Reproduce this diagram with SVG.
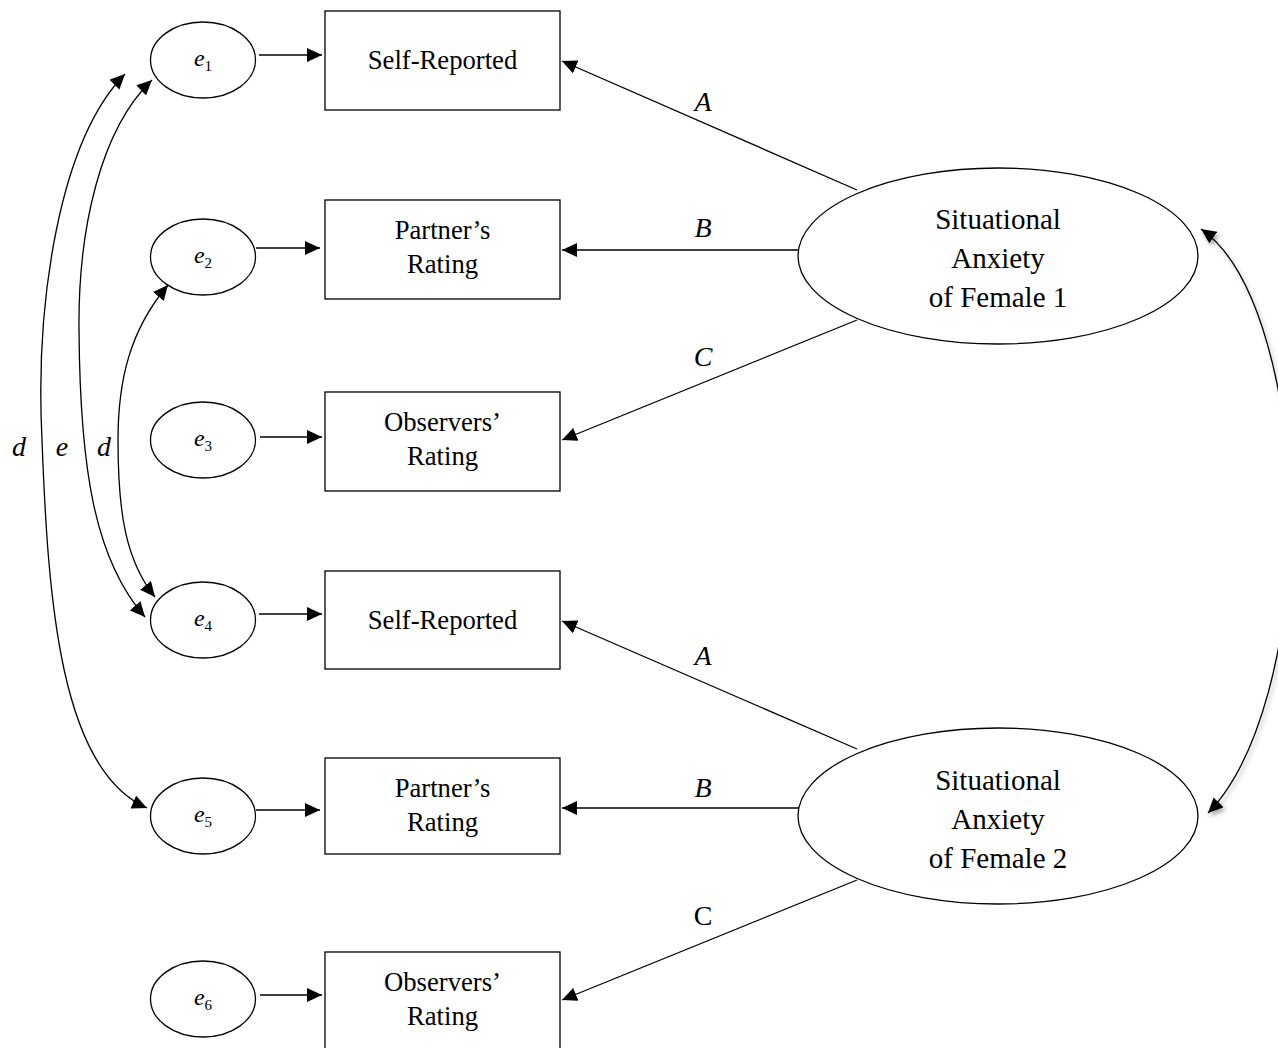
<svg xmlns="http://www.w3.org/2000/svg" width="1278" height="1048" viewBox="0 0 1278 1048">
  <defs>
    <marker id="arrow" viewBox="0 0 15 14" refX="15" refY="7" markerWidth="15" markerHeight="14" markerUnits="userSpaceOnUse" orient="auto-start-reverse">
      <path d="M0,0 L15,7 L0,14 z" fill="#000"/>
    </marker>
    <filter id="shadow" x="-20%" y="-10%" width="160%" height="130%">
      <feDropShadow dx="2" dy="3" stdDeviation="2" flood-color="#000" flood-opacity="0.35"/>
    </filter>
    <style>
      .box { fill: #fff; stroke: #000; stroke-width: 1.3; }
      .oval { fill: #fff; stroke: #000; stroke-width: 1.3; }
      .lbl { font-family: "Liberation Serif", "Times New Roman", serif; font-size: 26.67px; fill: #000; text-anchor: middle; }
      .big { font-family: "Liberation Serif", "Times New Roman", serif; font-size: 29px; fill: #000; text-anchor: middle; }
      .err { font-family: "Liberation Serif", "Times New Roman", serif; font-size: 24px; font-style: italic; fill: #000; text-anchor: middle; }
      .err .sub { font-size: 15px; font-style: normal; }
      .coef { font-family: "Liberation Serif", "Times New Roman", serif; font-size: 28px; font-style: italic; fill: #000; text-anchor: middle; }
      .coef.up { font-style: normal; }
      .wire { fill: none; stroke: #000; stroke-width: 1.3; }
      .one { marker-end: url(#arrow); }
      .two { marker-start: url(#arrow); marker-end: url(#arrow); }
    </style>
  </defs>

  <!-- error terms -->
  <g id="e1"><ellipse class="oval" cx="203" cy="60" rx="52.5" ry="38"/><text class="err" x="203" y="66">e<tspan class="sub" dy="5">1</tspan></text></g>
  <g id="e2"><ellipse class="oval" cx="203" cy="257" rx="52.5" ry="38"/><text class="err" x="203" y="263">e<tspan class="sub" dy="5">2</tspan></text></g>
  <g id="e3"><ellipse class="oval" cx="203" cy="440" rx="52.5" ry="38"/><text class="err" x="203" y="446">e<tspan class="sub" dy="5">3</tspan></text></g>
  <g id="e4"><ellipse class="oval" cx="203" cy="620" rx="52.5" ry="38"/><text class="err" x="203" y="626">e<tspan class="sub" dy="5">4</tspan></text></g>
  <g id="e5"><ellipse class="oval" cx="203" cy="816" rx="52.5" ry="38"/><text class="err" x="203" y="822">e<tspan class="sub" dy="5">5</tspan></text></g>
  <g id="e6"><ellipse class="oval" cx="203" cy="999" rx="52.5" ry="38"/><text class="err" x="203" y="1005">e<tspan class="sub" dy="5">6</tspan></text></g>

  <!-- observed indicators -->
  <g id="self1"><rect class="box" x="325" y="11" width="235" height="99"/><text class="lbl" x="442.5" y="69">Self-Reported</text></g>
  <g id="partner1"><rect class="box" x="325" y="200" width="235" height="99"/><text class="lbl" x="442.5" y="239">Partner’s</text><text class="lbl" x="442.5" y="273">Rating</text></g>
  <g id="observers1"><rect class="box" x="325" y="392" width="235" height="99"/><text class="lbl" x="442.5" y="431">Observers’</text><text class="lbl" x="442.5" y="465">Rating</text></g>
  <g id="self2"><rect class="box" x="325" y="571" width="235" height="98"/><text class="lbl" x="442.5" y="629">Self-Reported</text></g>
  <g id="partner2"><rect class="box" x="325" y="758" width="235" height="96"/><text class="lbl" x="442.5" y="797">Partner’s</text><text class="lbl" x="442.5" y="831">Rating</text></g>
  <g id="observers2"><rect class="box" x="325" y="952" width="235" height="110"/><text class="lbl" x="442.5" y="991">Observers’</text><text class="lbl" x="442.5" y="1025">Rating</text></g>

  <!-- latent factors -->
  <g id="female1"><ellipse class="oval" cx="998" cy="256" rx="200" ry="88"/><text class="big" x="998" y="229">Situational</text><text class="big" x="998" y="268">Anxiety</text><text class="big" x="998" y="307">of Female 1</text></g>
  <g id="female2"><ellipse class="oval" cx="998" cy="816" rx="200" ry="88"/><text class="big" x="998" y="790">Situational</text><text class="big" x="998" y="829">Anxiety</text><text class="big" x="998" y="868">of Female 2</text></g>

  <g id="connectors">
    <!-- error paths -->
    <line class="wire one" x1="259" y1="55" x2="322" y2="55"/>
    <line class="wire one" x1="256" y1="248" x2="320" y2="248"/>
    <line class="wire one" x1="260" y1="437" x2="322" y2="437"/>
    <line class="wire one" x1="259" y1="614" x2="322" y2="614"/>
    <line class="wire one" x1="256" y1="810" x2="320" y2="810"/>
    <line class="wire one" x1="260" y1="995" x2="322" y2="995"/>

    <!-- loadings -->
    <line class="wire one" x1="857" y1="190" x2="562" y2="61"/>
    <line class="wire one" x1="799" y1="250" x2="562" y2="250"/>
    <line class="wire one" x1="857" y1="320" x2="562" y2="440"/>
    <line class="wire one" x1="857" y1="749" x2="562" y2="621"/>
    <line class="wire one" x1="799" y1="808" x2="562" y2="808"/>
    <line class="wire one" x1="857" y1="880" x2="562" y2="1000"/>

    <!-- correlated errors -->
    <path class="wire two" d="M125,74 C60,140 35,300 42,440 C48,600 60,770 147,808"/>
    <path class="wire two" d="M152,80 C100,130 78,230 79,330 C80,470 95,560 145,617"/>
    <path class="wire two" d="M168,285 C130,330 118,380 118,440 C118,510 125,560 155,597"/>

    <!-- factor covariance -->
    <path class="wire two" filter="url(#shadow)" d="M1201,229 C1260,270 1290,400 1290,520 C1290,640 1260,760 1208,813"/>

    <!-- coefficient labels -->
    <text class="coef" x="703" y="111">A</text>
    <text class="coef" x="703" y="237">B</text>
    <text class="coef" x="703" y="366">C</text>
    <text class="coef" x="703" y="665">A</text>
    <text class="coef" x="703" y="797">B</text>
    <text class="coef up" x="703" y="925">C</text>
    <text class="coef" x="19" y="456">d</text>
    <text class="coef" x="62" y="456">e</text>
    <text class="coef" x="104" y="456">d</text>
  </g>
</svg>
